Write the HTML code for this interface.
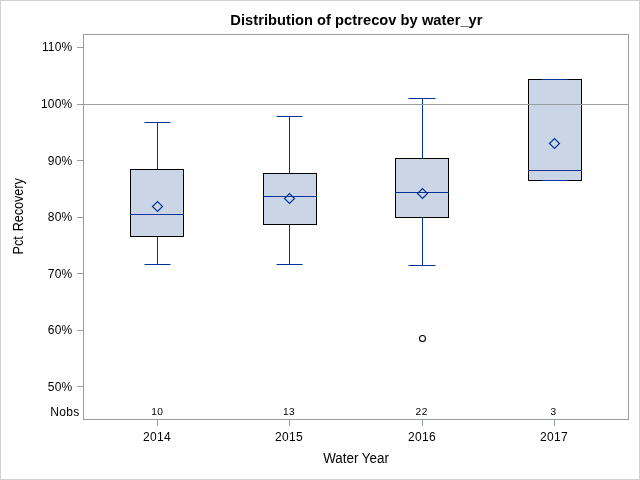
<!DOCTYPE html>
<html lang="en">
<head>
<meta charset="utf-8">
<title>Distribution of pctrecov by water_yr</title>
<style>
html,body{margin:0;padding:0;background:#fff;}
body{width:640px;height:480px;overflow:hidden;}
svg{display:block;}
text{font-family:"Liberation Sans",Arial,Helvetica,sans-serif;fill:#000;}
.t12{font-size:12px;letter-spacing:0.33px;}
.ty{letter-spacing:0.17px;}
.yl{letter-spacing:-0.1px;word-spacing:1.6px;}
.t9{font-size:10.2px;letter-spacing:0.5px;text-rendering:geometricPrecision;}
.lab{font-size:13.33px;}
.title{font-size:14.67px;font-weight:bold;letter-spacing:0.035px;}
</style>
</head>
<body>
<svg width="640" height="480" viewBox="0 0 640 480" shape-rendering="crispEdges">
<rect x="0" y="0" width="640" height="480" fill="#fff"/>
<rect x="0.5" y="0.5" width="639" height="479" fill="none" stroke="#D0D0D0" stroke-width="1"/>
<rect x="83.5" y="34.5" width="545" height="385" fill="#fff" stroke="#979DA0" stroke-width="1"/>
<rect x="77" y="47" width="6" height="1" fill="#979DA0"/>
<text x="72.4" y="51" text-anchor="end" class="t12 ty">110%</text>
<rect x="77" y="104" width="6" height="1" fill="#979DA0"/>
<text x="72.4" y="108" text-anchor="end" class="t12 ty">100%</text>
<rect x="77" y="160" width="6" height="1" fill="#979DA0"/>
<text x="72.4" y="165" text-anchor="end" class="t12 ty">90%</text>
<rect x="77" y="217" width="6" height="1" fill="#979DA0"/>
<text x="72.4" y="221" text-anchor="end" class="t12 ty">80%</text>
<rect x="77" y="273" width="6" height="1" fill="#979DA0"/>
<text x="72.4" y="278" text-anchor="end" class="t12 ty">70%</text>
<rect x="77" y="330" width="6" height="1" fill="#979DA0"/>
<text x="72.4" y="334" text-anchor="end" class="t12 ty">60%</text>
<rect x="77" y="386" width="6" height="1" fill="#979DA0"/>
<text x="72.4" y="391" text-anchor="end" class="t12 ty">50%</text>
<text x="79.5" y="416" text-anchor="end" class="t12">Nobs</text>
<rect x="157" y="420" width="1" height="6" fill="#979DA0"/>
<text x="157.1" y="441" text-anchor="middle" class="t12">2014</text>
<text x="157.3" y="415" text-anchor="middle" class="t9">10</text>
<rect x="289" y="420" width="1" height="6" fill="#979DA0"/>
<text x="289.1" y="441" text-anchor="middle" class="t12">2015</text>
<text x="289.1" y="415" text-anchor="middle" class="t9">13</text>
<rect x="422" y="420" width="1" height="6" fill="#979DA0"/>
<text x="422.1" y="441" text-anchor="middle" class="t12">2016</text>
<text x="421.7" y="415" text-anchor="middle" class="t9">22</text>
<rect x="554" y="420" width="1" height="6" fill="#979DA0"/>
<text x="554.1" y="441" text-anchor="middle" class="t12">2017</text>
<text x="553.6" y="415" text-anchor="middle" class="t9">3</text>
<rect x="157" y="122" width="1" height="48" fill="#003399"/>
<rect x="157" y="236" width="1" height="29" fill="#003399"/>
<rect x="130.5" y="169.5" width="53" height="67" fill="#CAD5E5" stroke="#000" stroke-width="1"/>
<rect x="144.5" y="122" width="26.0" height="1" fill="#003399" shape-rendering="geometricPrecision"/>
<rect x="144.5" y="264" width="26.0" height="1" fill="#003399" shape-rendering="geometricPrecision"/>
<rect x="130" y="214" width="54" height="1" fill="#003399"/>
<path d="M152.5 206.5L157.5 201.5L162.5 206.5L157.5 211.5Z" fill="none" stroke="#003399" stroke-width="1.2" shape-rendering="geometricPrecision"/>
<rect x="289" y="116" width="1" height="58" fill="#003399"/>
<rect x="289" y="224" width="1" height="41" fill="#003399"/>
<rect x="263.5" y="173.5" width="53" height="51" fill="#CAD5E5" stroke="#000" stroke-width="1"/>
<rect x="276.5" y="116" width="26.0" height="1" fill="#003399" shape-rendering="geometricPrecision"/>
<rect x="276.5" y="264" width="26.0" height="1" fill="#003399" shape-rendering="geometricPrecision"/>
<rect x="263" y="196" width="54" height="1" fill="#003399"/>
<path d="M284.5 198.5L289.5 193.5L294.5 198.5L289.5 203.5Z" fill="none" stroke="#003399" stroke-width="1.2" shape-rendering="geometricPrecision"/>
<rect x="422" y="98" width="1" height="61" fill="#003399"/>
<rect x="422" y="217" width="1" height="49" fill="#003399"/>
<rect x="395.5" y="158.5" width="53" height="59" fill="#CAD5E5" stroke="#000" stroke-width="1"/>
<rect x="408.5" y="98" width="27.0" height="1" fill="#003399" shape-rendering="geometricPrecision"/>
<rect x="408.5" y="265" width="27.0" height="1" fill="#003399" shape-rendering="geometricPrecision"/>
<rect x="395" y="192" width="54" height="1" fill="#003399"/>
<path d="M417.5 193.5L422.5 188.5L427.5 193.5L422.5 198.5Z" fill="none" stroke="#003399" stroke-width="1.2" shape-rendering="geometricPrecision"/>
<rect x="528.5" y="79.5" width="53" height="101" fill="#CAD5E5" stroke="#000" stroke-width="1"/>
<rect x="541.5" y="79" width="26.0" height="1" fill="#003399" shape-rendering="geometricPrecision"/>
<rect x="541.5" y="180" width="26.0" height="1" fill="#003399" shape-rendering="geometricPrecision"/>
<rect x="528" y="170" width="54" height="1" fill="#003399"/>
<path d="M549.5 143.5L554.5 138.5L559.5 143.5L554.5 148.5Z" fill="none" stroke="#003399" stroke-width="1.2" shape-rendering="geometricPrecision"/>
<circle cx="422.5" cy="338.5" r="3" fill="none" stroke="#000" stroke-width="1.05" shape-rendering="geometricPrecision"/>
<rect x="84" y="104" width="544" height="1" fill="#989EA1"/>
<text transform="translate(230.3 25) scale(1 1.06)" class="title">Distribution of pctrecov by water_yr</text>
<text transform="translate(356 463) scale(1.005 1.07)" text-anchor="middle" class="lab">Water Year</text>
<text transform="translate(23 216.3) rotate(-90) scale(0.957 1.05)" text-anchor="middle" class="lab yl">Pct Recovery</text>
</svg>
</body>
</html>
